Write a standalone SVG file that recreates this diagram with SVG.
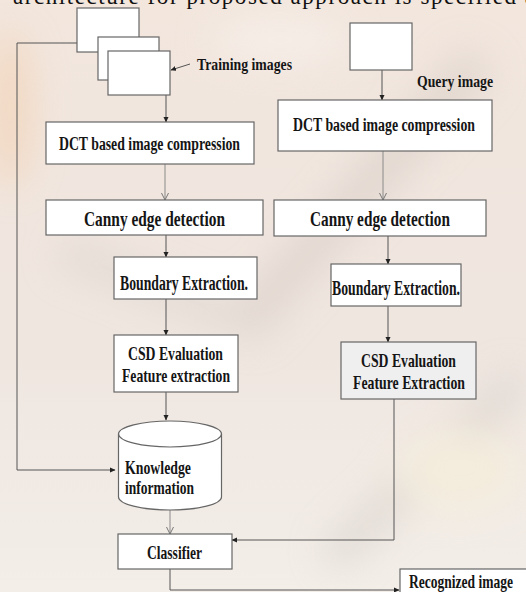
<svg xmlns="http://www.w3.org/2000/svg" width="526" height="592" viewBox="0 0 526 592">
  <style>
    .box{fill:#ffffff;stroke:#666;stroke-width:1.2}
    .gbox{fill:#efefef;stroke:#666;stroke-width:1.2}
    .t{font-family:"Liberation Serif","Times New Roman",serif;font-weight:bold;fill:#151515}
    .c{fill:none;stroke:#555;stroke-width:1}
    .cg{fill:none;stroke:#8a8a8a;stroke-width:1}
  </style>
  <defs>
    <marker id="ah" markerWidth="6" markerHeight="6" refX="5" refY="3" orient="auto" markerUnits="userSpaceOnUse">
      <path d="M0,0.5 L5.5,3 L0,5.5 z" fill="#222"/>
    </marker>
    <marker id="av" markerWidth="8" markerHeight="8" refX="7" refY="4" orient="auto" markerUnits="userSpaceOnUse">
      <path d="M0,0.5 L7,4 L0,7.5" fill="none" stroke="#777" stroke-width="1"/>
    </marker>
    <filter id="blur" x="-50%" y="-50%" width="200%" height="200%">
      <feGaussianBlur stdDeviation="18"/>
    </filter>
    <linearGradient id="bg" x1="0" y1="0" x2="0" y2="1">
      <stop offset="0" stop-color="#f2e6dd"/>
      <stop offset="0.6" stop-color="#efe6e0"/>
      <stop offset="1" stop-color="#f3eee8"/>
    </linearGradient>
  </defs>

  <!-- background (faded photo) -->
  <g id="background">
    <rect x="0" y="0" width="526" height="592" fill="url(#bg)"/>
    <g filter="url(#blur)" opacity="0.6">
      <ellipse cx="10" cy="110" rx="22" ry="80" fill="#f3cfae"/>
      <path d="M240,330 L480,60" stroke="#d8cdc6" stroke-width="40" fill="none"/>
      <path d="M60,250 L240,320" stroke="#dcd3cd" stroke-width="30" fill="none"/>
      <path d="M330,560 L520,380" stroke="#d6cfc9" stroke-width="30" fill="none"/>
      <ellipse cx="460" cy="470" rx="60" ry="40" fill="#f6efd8"/>
      <ellipse cx="280" cy="40" rx="70" ry="25" fill="#f8f3ee"/>
    </g>
  </g>

  <text x="13" y="4" font-family="Liberation Serif, serif" font-size="23" fill="#111" textLength="522" lengthAdjust="spacing">architecture for proposed approach is specified a</text>

  <!-- connectors -->
  <g id="connectors">
    <path class="c" d="M77,43 H17 V470 H115" marker-end="url(#ah)"/>
    <path class="c" d="M190,64 L171,70" marker-end="url(#ah)"/>
    <path class="c" d="M166,95 V122" marker-end="url(#ah)"/>
    <path class="cg" d="M165,164 V200" marker-end="url(#av)"/>
    <path class="c" d="M166,235 V257" marker-end="url(#ah)"/>
    <path class="c" d="M166,299 V335" marker-end="url(#ah)"/>
    <path class="c" d="M166,392 V420" marker-end="url(#ah)"/>
    <path class="cg" d="M170,510 V534" marker-end="url(#av)"/>
    <path class="c" d="M170,569 V590 H399" marker-end="url(#ah)"/>
    <path class="c" d="M382,70 V100" marker-end="url(#ah)"/>
    <path class="cg" d="M383,151 V200" marker-end="url(#av)"/>
    <path class="c" d="M388,236 V264" marker-end="url(#ah)"/>
    <path class="c" d="M388,306 V342" marker-end="url(#ah)"/>
    <path class="c" d="M394,399 V540 H232" marker-end="url(#ah)"/>
  </g>

  <g id="training-images">
    <rect class="box" x="77" y="8" width="62" height="44"/>
    <rect class="box" x="98" y="37" width="61" height="43"/>
    <rect class="box" x="108" y="51" width="62" height="44"/>
    <text class="t" x="197" y="70" font-size="17" textLength="95" lengthAdjust="spacingAndGlyphs">Training images</text>
  </g>

  <g id="query-image">
    <rect class="box" x="350" y="23" width="62" height="47"/>
    <text class="t" x="417" y="87" font-size="17" textLength="76" lengthAdjust="spacingAndGlyphs">Query image</text>
  </g>

  <g id="dct-left">
    <rect class="box" x="46" y="122" width="208" height="42"/>
    <text class="t" x="59" y="150" font-size="18" textLength="181" lengthAdjust="spacingAndGlyphs">DCT based image compression</text>
  </g>

  <g id="dct-right">
    <rect class="box" x="278" y="100" width="214" height="51"/>
    <text class="t" x="293" y="131" font-size="18" textLength="182" lengthAdjust="spacingAndGlyphs">DCT based image compression</text>
  </g>

  <g id="canny-left">
    <rect class="box" x="46" y="200" width="217" height="35"/>
    <text class="t" x="84" y="226" font-size="21" textLength="141" lengthAdjust="spacingAndGlyphs">Canny edge detection</text>
  </g>

  <g id="canny-right">
    <rect class="box" x="274" y="200" width="212" height="36"/>
    <text class="t" x="310" y="226" font-size="21" textLength="140" lengthAdjust="spacingAndGlyphs">Canny edge detection</text>
  </g>

  <g id="boundary-left">
    <rect class="box" x="114" y="257" width="143" height="42"/>
    <text class="t" x="120" y="290" font-size="20" textLength="128" lengthAdjust="spacingAndGlyphs">Boundary Extraction.</text>
  </g>

  <g id="boundary-right">
    <rect class="box" x="331" y="264" width="130" height="42"/>
    <text class="t" x="332" y="295" font-size="20" textLength="128" lengthAdjust="spacingAndGlyphs">Boundary Extraction.</text>
  </g>

  <g id="csd-left">
    <rect class="box" x="114" y="335" width="124" height="57"/>
    <text class="t" x="128" y="360" font-size="19" textLength="95" lengthAdjust="spacingAndGlyphs">CSD Evaluation</text>
    <text class="t" x="122" y="382" font-size="19" textLength="108" lengthAdjust="spacingAndGlyphs">Feature extraction</text>
  </g>

  <g id="csd-right">
    <rect class="gbox" x="341" y="342" width="135" height="57"/>
    <text class="t" x="361" y="367" font-size="19" textLength="95" lengthAdjust="spacingAndGlyphs">CSD Evaluation</text>
    <text class="t" x="353" y="389" font-size="19" textLength="112" lengthAdjust="spacingAndGlyphs">Feature Extraction</text>
  </g>

  <g id="knowledge">
    <path d="M118.5,434 V497 A51.5,13 0 0 0 221.5,497 V434 A51.5,13 0 0 0 118.5,434 Z" fill="#fff" stroke="#666" stroke-width="1.2"/>
    <path d="M118.5,434 A51.5,13 0 0 0 221.5,434" fill="none" stroke="#666" stroke-width="1.2"/>
    <text class="t" x="125" y="474" font-size="19" textLength="66" lengthAdjust="spacingAndGlyphs">Knowledge</text>
    <text class="t" x="125" y="494" font-size="19" textLength="69" lengthAdjust="spacingAndGlyphs">information</text>
  </g>

  <g id="classifier">
    <rect class="box" x="118" y="534" width="114" height="35"/>
    <text class="t" x="147" y="559" font-size="19" textLength="55" lengthAdjust="spacingAndGlyphs">Classifier</text>
  </g>

  <g id="recognized">
    <rect class="box" x="400" y="569" width="140" height="40"/>
    <text class="t" x="409" y="588" font-size="19" textLength="104" lengthAdjust="spacingAndGlyphs">Recognized image</text>
  </g>
</svg>
